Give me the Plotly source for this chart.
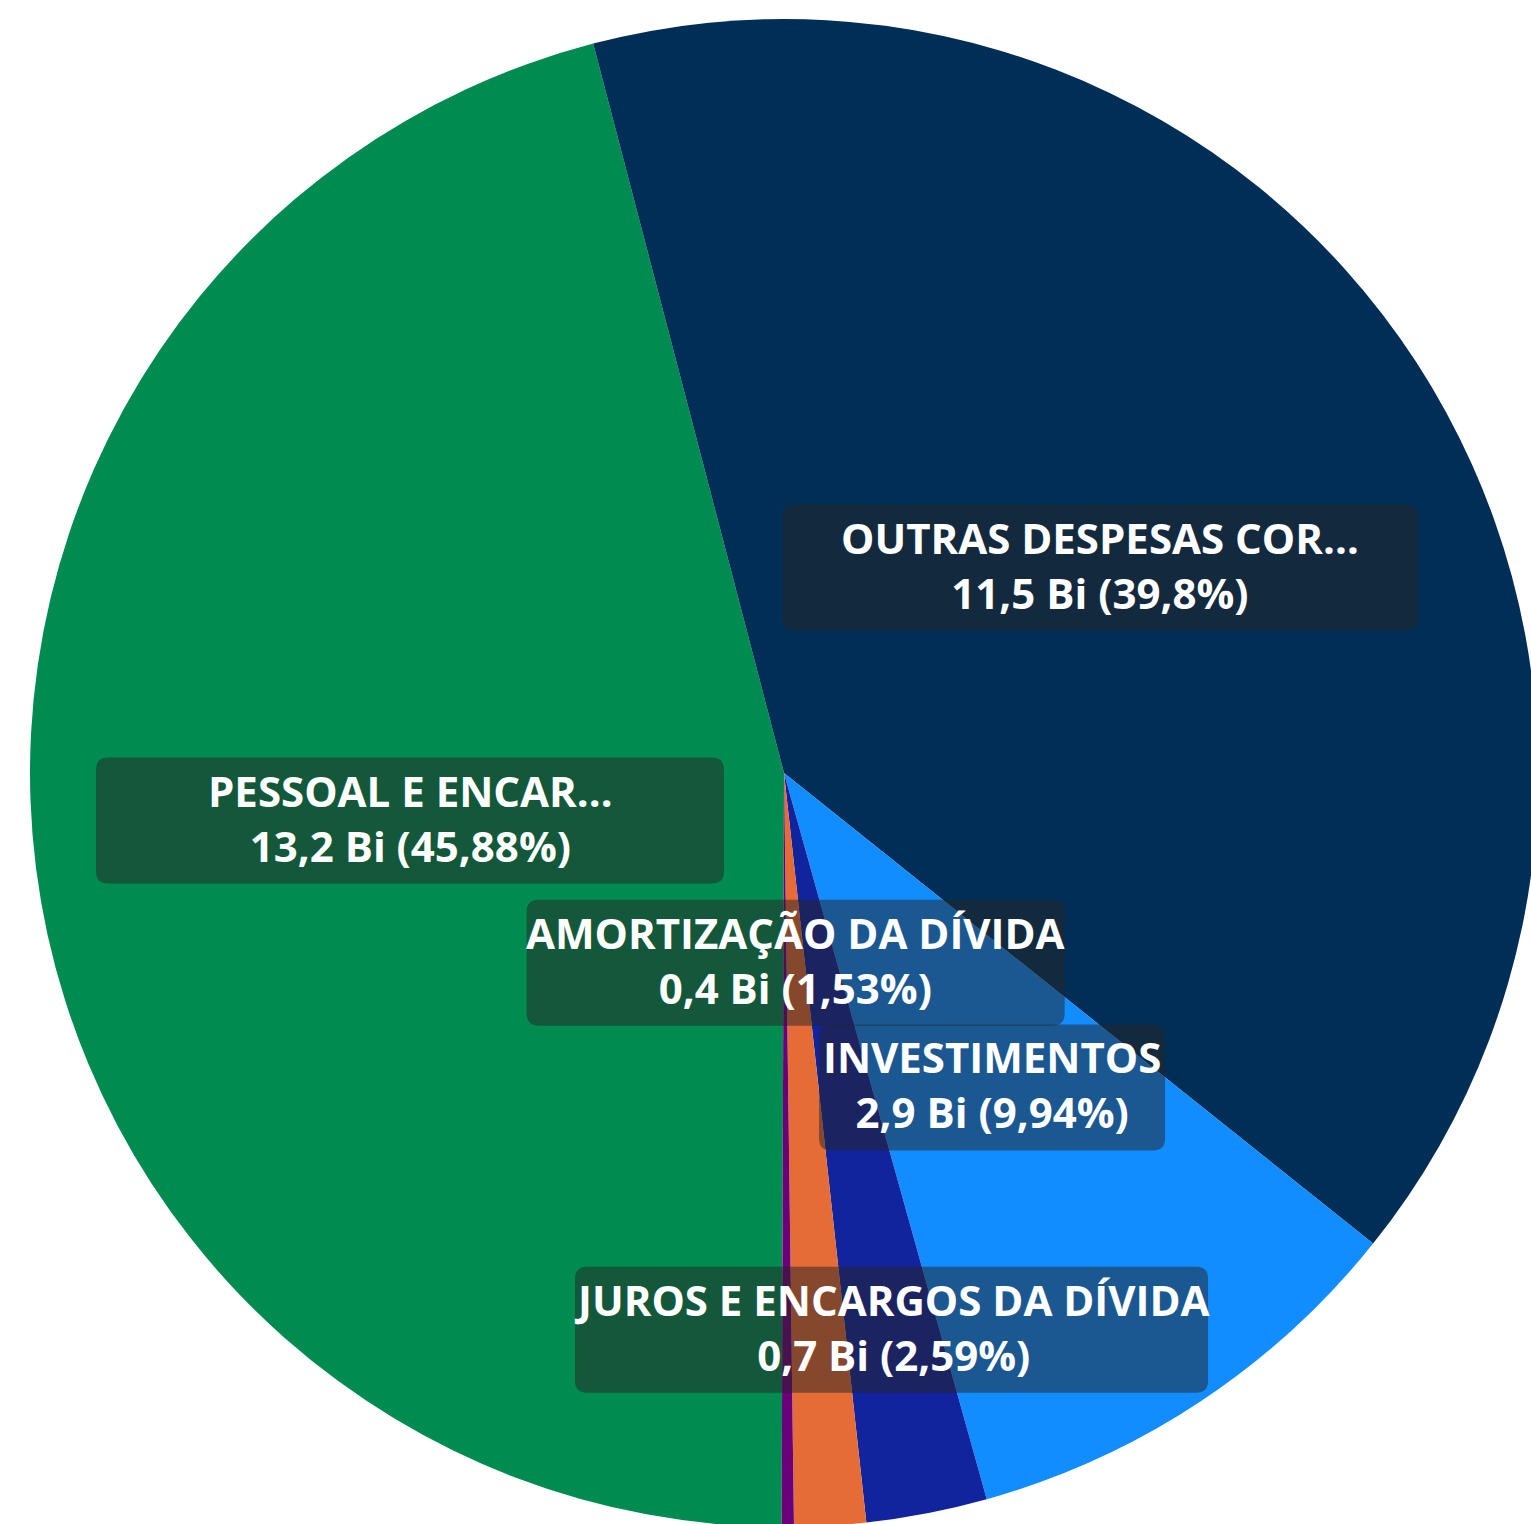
import math
import plotly.graph_objects as go

# ---------------- data ----------------
categories = [
    "PESSOAL E ENCARGOS SOCIAIS",
    "OUTRAS DESPESAS CORRENTES",
    "INVESTIMENTOS",
    "JUROS E ENCARGOS DA DÍVIDA",
    "AMORTIZAÇÃO DA DÍVIDA",
    "INVERSÕES FINANCEIRAS",
]
display_labels = [
    "PESSOAL E ENCAR…",
    "OUTRAS DESPESAS COR…",
    "INVESTIMENTOS",
    "JUROS E ENCARGOS DA DÍVIDA",
    "AMORTIZAÇÃO DA DÍVIDA",
    "",
]
values_bi = [13.21, 11.46, 2.862, 0.746, 0.441, 0.075]

# ---------------- style ----------------
colors = ["#008C50", "#012E56", "#118DFF", "#12239E", "#E66C37", "#6B007B"]
label_radius = [0.5, 0.5, 0.5, 0.752, 0.252, None]   # fraction of pie radius along slice mid-angle
box_width_px = [628, 636, 346, 633, 538, 0]
BOX_H = 126
CORNER = 12
TEXT_SHIFT = 3
ROTATION = 180.18
BOX_FILL = "rgba(37,36,35,0.5)"
FONT = dict(family="Open Sans", size=42, color="white", weight="bold")

# figure geometry (window 1531x1524, pie slightly cropped at right/bottom)
RAD = 754
L, T = 30, 19
PW = PH = 2 * RAD
W, H = L + PW, T + PH
CX, CY = L + RAD, T + RAD


def fmt_val(v):
    return f"{v:.1f}".replace(".", ",") + " Bi"


def fmt_pct(p):
    s = f"{p:.2f}".rstrip("0").rstrip(".")
    return s.replace(".", ",") + "%"


total = sum(values_bi)

fig = go.Figure(
    go.Pie(
        labels=categories,
        values=values_bi,
        sort=False,
        direction="clockwise",
        rotation=ROTATION,
        marker=dict(colors=colors, line=dict(width=0)),
        textinfo="none",
        hoverinfo="label+value+percent",
        showlegend=False,
        domain=dict(x=[0, 1], y=[0, 1]),
    )
)


def to_paper(px, py):
    return (px - L) / PW, 1 - (py - T) / PH


shapes = []
annotations = []
cum = 0.0
for i, v in enumerate(values_bi):
    mid = math.radians(ROTATION + 360.0 * (cum + v / 2) / total)
    cum += v
    f = label_radius[i]
    if f is None or not display_labels[i]:
        continue
    px = CX + f * RAD * math.sin(mid)
    py = CY - f * RAD * math.cos(mid)
    bw = box_width_px[i]
    x0, y1 = to_paper(px - bw / 2, py - BOX_H / 2)
    x1, y0 = to_paper(px + bw / 2, py + BOX_H / 2)
    rx, ry = CORNER / PW, CORNER / PH
    path = (
        f"M {x0+rx},{y1} L {x1-rx},{y1} Q {x1},{y1} {x1},{y1-ry} "
        f"L {x1},{y0+ry} Q {x1},{y0} {x1-rx},{y0} L {x0+rx},{y0} "
        f"Q {x0},{y0} {x0},{y0+ry} L {x0},{y1-ry} Q {x0},{y1} {x0+rx},{y1} Z"
    )
    shapes.append(dict(type="path", xref="paper", yref="paper", path=path,
                       fillcolor=BOX_FILL, line=dict(width=0), layer="above"))
    cxp, cyp = to_paper(px, py)
    pct = v / total * 100
    text = f"{display_labels[i]}<br>{fmt_val(v)} ({fmt_pct(pct)})"
    annotations.append(dict(x=cxp, y=cyp, xref="paper", yref="paper", text=text,
                            showarrow=False, xanchor="center", yanchor="middle",
                            align="center", yshift=TEXT_SHIFT, font=FONT))

fig.update_layout(
    width=W,
    height=H,
    margin=dict(l=L, r=W - L - PW, t=T, b=H - T - PH, pad=0),
    paper_bgcolor="white",
    plot_bgcolor="white",
    shapes=shapes,
    annotations=annotations,
)

post = (
    "document.body.style.margin='0';"
    "document.documentElement.style.overflow='hidden';"
    "document.body.style.overflow='hidden';"
    "var gd=document.getElementById('{plot_id}');"
    "gd.parentElement.style.width='1531px';"
    "gd.parentElement.style.height='1524px';"
    "gd.parentElement.style.overflow='hidden';"
)

fig.write_html("out.html", config={"displayModeBar": False}, post_script=post)
